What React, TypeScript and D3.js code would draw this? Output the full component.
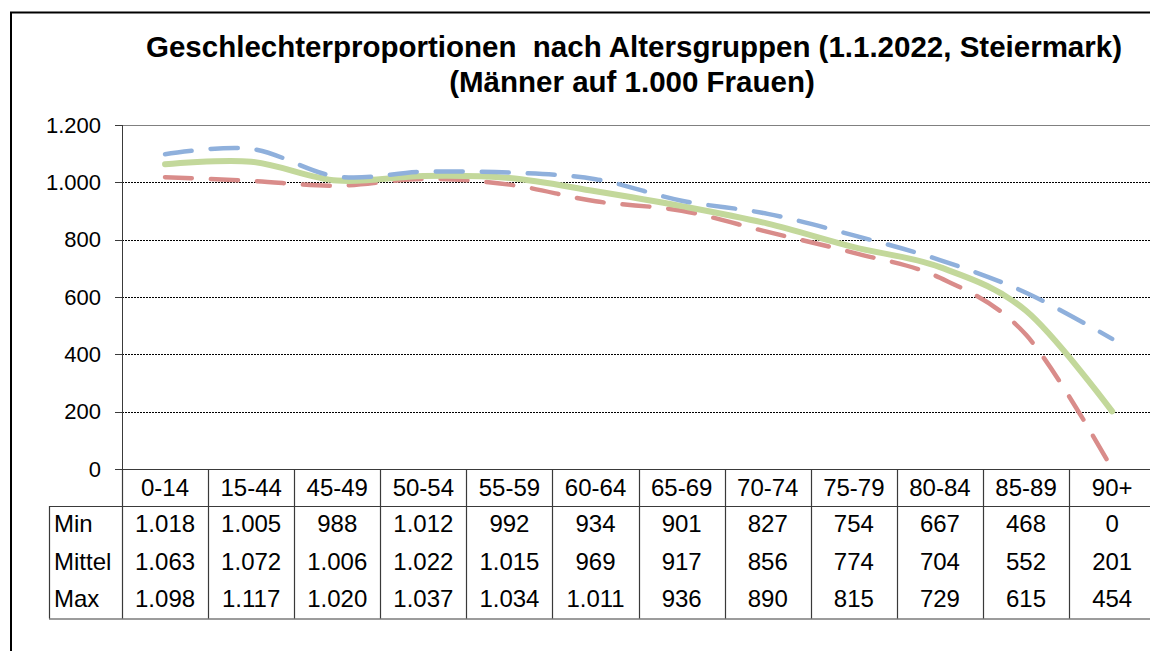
import React from "react";
import * as d3 from "d3";

const categories = ["0-14", "15-44", "45-49", "50-54", "55-59", "60-64", "65-69", "70-74", "75-79", "80-84", "85-89", "90+"];
const minValues = [1018, 1005, 988, 1012, 992, 934, 901, 827, 754, 667, 468, 0];
const meanValues = [1063, 1072, 1006, 1022, 1015, 969, 917, 856, 774, 704, 552, 201];
const maxValues = [1098, 1117, 1020, 1037, 1034, 1011, 936, 890, 815, 729, 615, 454];
const yTicks = [0, 200, 400, 600, 800, 1000, 1200];

const rows = [
  { label: "Min", values: minValues, color: "#d98c8a", dash: "27 19" },
  { label: "Mittel", values: meanValues, color: "#c3d89b", dash: null },
  { label: "Max", values: maxValues, color: "#8fb0dc", dash: "27 19" },
];

const fmt = (v: number) => d3.format(",")(v).replace(/,/g, ".");

export default function App() {
  const width = 1150, height = 651;
  const left = 122, top = 125, bottom = 469;
  const colW = 86.1;
  const right = left + colW * categories.length;

  const x = d3.scaleBand().domain(categories).range([left, right]);
  const y = d3.scaleLinear().domain([0, 1200]).range([bottom, top]);

  const line = d3.line<number>()
    .x((d, i) => x(categories[i])! + x.bandwidth() / 2)
    .y(d => y(d))
    .curve(d3.curveCardinal.tension(0));

  const headerH = 37;
  const rowH = 37.5;
  const tableTop = bottom + headerH;
  const tableBottom = tableTop + rowH * 3;
  const labelLeft = 49;
  const font = "Liberation Sans, Arial, sans-serif";
  const lineCol = "#3a3a3a";

  return (
    <svg width={width} height={height} style={{ position: "absolute", left: 0, top: 0, background: "#fff" }} fontFamily={font}>
      <rect x={0} y={0} width={width} height={height} fill="#fff" />
      {/* frame */}
      <path d={`M11,${height} V12.5 H${width}`} fill="none" stroke="#000" strokeWidth={2} />

      <text x={634} y={57} textAnchor="middle" fontSize={29.5} fontWeight="bold" style={{ whiteSpace: "pre" }}>Geschlechterproportionen  nach Altersgruppen (1.1.2022, Steiermark)</text>
      <text x={632} y={92} textAnchor="middle" fontSize={29.5} fontWeight="bold">(Männer auf 1.000 Frauen)</text>

      {/* grid */}
      {yTicks.filter(t => t > 0).map(t => (
        <line key={t} x1={left} x2={right} y1={Math.round(y(t)) + 0.5} y2={Math.round(y(t)) + 0.5}
          stroke={t === 1200 ? "#808080" : "#000"} strokeWidth={1} strokeDasharray={t === 1200 ? undefined : "2 1"} />
      ))}
      {yTicks.map(t => (
        <g key={"t" + t}>
          <line x1={left - 7} x2={left} y1={Math.round(y(t)) + 0.5} y2={Math.round(y(t)) + 0.5} stroke={lineCol} />
          <text x={101} y={y(t) + 7.5} textAnchor="end" fontSize={22}>{fmt(t)}</text>
        </g>
      ))}
      <line x1={left + 0.5} x2={left + 0.5} y1={top} y2={bottom} stroke={lineCol} />

      {/* series */}
      {rows.map(r => (
        <path key={r.label} d={line(r.values)!} fill="none" stroke={r.color} strokeWidth={r.dash ? 4.5 : 6}
          strokeLinecap="round" strokeDasharray={r.dash ?? undefined} />
      ))}

      {/* table */}
      <line x1={left} x2={width} y1={bottom + 0.5} y2={bottom + 0.5} stroke={lineCol} strokeWidth={1.2} />
      <line x1={labelLeft} x2={width} y1={tableTop + 0.5} y2={tableTop + 0.5} stroke={lineCol} strokeWidth={1.2} />
      <line x1={labelLeft} x2={width} y1={tableBottom + 0.5} y2={tableBottom + 0.5} stroke={lineCol} strokeWidth={1.2} />
      <line x1={labelLeft + 0.5} x2={labelLeft + 0.5} y1={tableTop} y2={tableBottom} stroke={lineCol} strokeWidth={1.2} />
      {categories.map(c => (
        <line key={"v" + c} x1={Math.round(x(c)!) + 0.5} x2={Math.round(x(c)!) + 0.5} y1={bottom} y2={tableBottom} stroke={lineCol} strokeWidth={1.2} />
      ))}
      {categories.map(c => (
        <text key={"c" + c} x={x(c)! + x.bandwidth() / 2} y={bottom + 27} textAnchor="middle" fontSize={24}>{c}</text>
      ))}
      {rows.map((r, ri) => (
        <g key={"row" + r.label}>
          <text x={labelLeft + 5} y={tableTop + rowH * ri + 26} fontSize={24}>{r.label}</text>
          {r.values.map((v, i) => (
            <text key={i} x={x(categories[i])! + x.bandwidth() / 2} y={tableTop + rowH * ri + 26} textAnchor="middle" fontSize={24}>{fmt(v)}</text>
          ))}
        </g>
      ))}
    </svg>
  );
}
